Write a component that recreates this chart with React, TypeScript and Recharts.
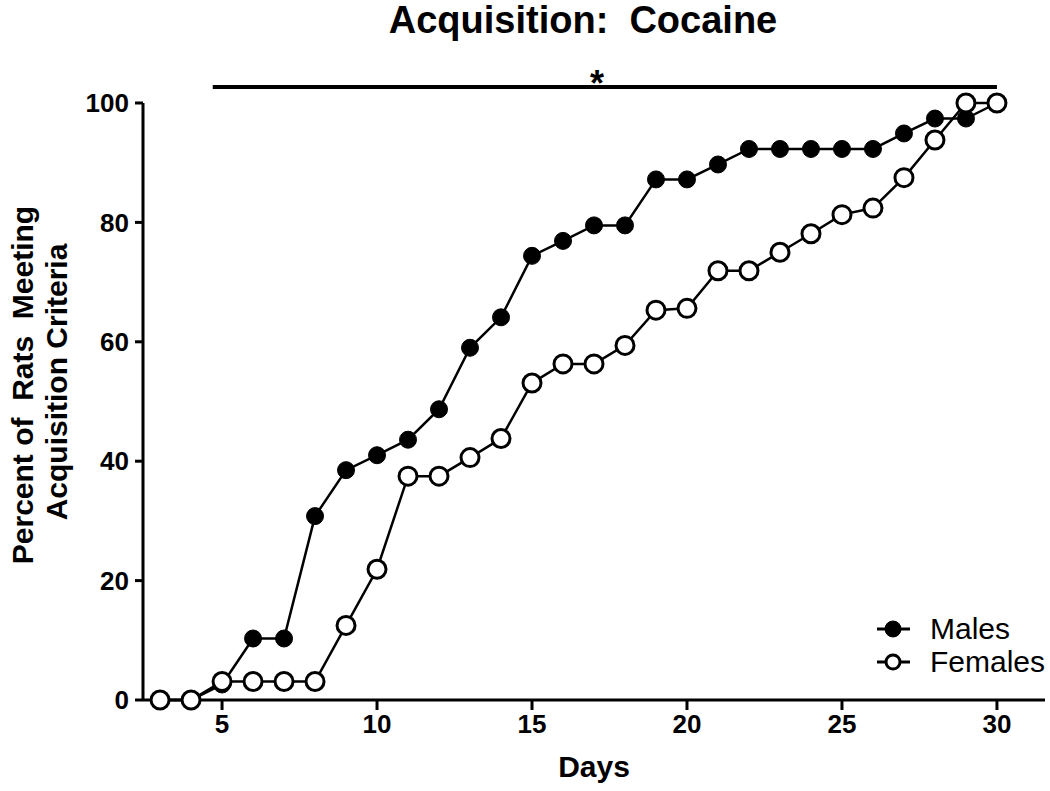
import React from "react";
import { LineChart, Line, XAxis, YAxis, Legend, ReferenceLine } from "recharts";

const days = [3, 4, 5, 6, 7, 8, 9, 10, 11, 12, 13, 14, 15, 16, 17, 18, 19, 20, 21, 22, 23, 24, 25, 26, 27, 28, 29, 30];
const males = [0, 0, 2.6, 10.3, 10.3, 30.8, 38.5, 41.0, 43.6, 48.7, 59.0, 64.1, 74.4, 76.9, 79.5, 79.5, 87.2, 87.2, 89.7, 92.3, 92.3, 92.3, 92.3, 92.3, 94.9, 97.4, 97.4, 100];
const females = [0, 0, 3.1, 3.1, 3.1, 3.1, 12.5, 21.9, 37.5, 37.5, 40.6, 43.8, 53.1, 56.3, 56.3, 59.4, 65.3, 65.6, 71.9, 71.9, 75.0, 78.1, 81.3, 82.4, 87.5, 93.8, 100, 100];
const xTicks = [5, 10, 15, 20, 25, 30];
const yTicks = [0, 20, 40, 60, 80, 100];
const sigRange = [4.7, 30];
const legendOrder = ["males", "females"];

const FONT = '"Liberation Sans", Arial, Helvetica, sans-serif';

const data = days.map((d, i) => ({ day: d, males: males[i], females: females[i] }));

function LegendBox({ payload }: any) {
  const items = [...(payload || [])].sort(
    (a: any, b: any) => legendOrder.indexOf(a.dataKey) - legendOrder.indexOf(b.dataKey)
  );
  return (
    <div style={{ fontFamily: FONT, fontSize: 30, color: "#000" }}>
      {items.map((p: any) => {
        const open = p.dataKey === "females";
        return (
          <div key={p.dataKey} style={{ display: "flex", alignItems: "center", height: 33 }}>
            <svg width={62} height={24}>
              <line x1={9} y1={12} x2={42} y2={12} stroke="#000" strokeWidth={3} />
              <circle cx={25} cy={12} r={open ? 7 : 8} fill={open ? "#fff" : "#000"} stroke="#000" strokeWidth={open ? 3 : 1} />
            </svg>
            <span style={{ lineHeight: "30px" }}>{p.value}</span>
          </div>
        );
      })}
    </div>
  );
}

export default function App() {
  return (
    <div style={{ position: "absolute", left: 0, top: 0, width: 1050, height: 791, background: "#fff" }}>
      <LineChart width={1050} height={791} data={data} margin={{ top: 103, right: 5, bottom: 61, left: 83 }}>
        <XAxis
          dataKey="day"
          type="number"
          domain={[2.45, 31.55]}
          allowDataOverflow
          ticks={xTicks}
          tickSize={10}
          tickMargin={5}
          stroke="#000"
          strokeWidth={3}
          tick={{ fontFamily: FONT, fontSize: 26, fontWeight: "bold", fill: "#000" }}
          label={() => (
            <text x={594} y={777} textAnchor="middle" fontFamily={FONT} fontSize={30} fontWeight="bold" fill="#000">
              Days
            </text>
          )}
        />
        <YAxis
          type="number"
          domain={[0, 100]}
          ticks={yTicks}
          width={60}
          tickSize={8}
          tickMargin={6}
          stroke="#000"
          strokeWidth={3}
          tick={{ fontFamily: FONT, fontSize: 26, fontWeight: "bold", fill: "#000" }}
          label={() => (
            <g fontFamily={FONT} fontSize={30} fontWeight="bold" fill="#000">
              <text x={33} y={385} textAnchor="middle" transform="rotate(-90 33 385)" xmlSpace="preserve" style={{ whiteSpace: "pre" }}>
                {"Percent of  Rats  Meeting"}
              </text>
              <text x={67} y={382} textAnchor="middle" transform="rotate(-90 67 382)">
                {"Acquisition Criteria"}
              </text>
            </g>
          )}
        />
        <ReferenceLine
          segment={[{ x: sigRange[0], y: 102.7 }, { x: sigRange[1], y: 102.7 }]}
          stroke="#000"
          strokeWidth={4}
          ifOverflow="visible"
        />
        <Line
          dataKey="males"
          name="Males"
          stroke="#000"
          strokeWidth={2.5}
          dot={{ r: 8.5, fill: "#000", stroke: "#000", strokeWidth: 1 }}
          isAnimationActive={false}
        />
        <Line
          dataKey="females"
          name="Females"
          stroke="#000"
          strokeWidth={2.5}
          dot={{ r: 9, fill: "#fff", stroke: "#000", strokeWidth: 3 }}
          isAnimationActive={false}
        />
        <Legend
          layout="vertical"
          align="center"
          verticalAlign="middle"
          content={<LegendBox />}
          wrapperStyle={{ left: 868, top: 612, width: 190 }}
        />
      </LineChart>
      <svg width={1050} height={120} style={{ position: "absolute", left: 0, top: 0, pointerEvents: "none" }}>
        <text x={583} y={33} textAnchor="middle" fontFamily={FONT} fontSize={38} fontWeight="bold" fill="#000" style={{ whiteSpace: "pre" }}>
          {"Acquisition:  Cocaine"}
        </text>
        <text x={597} y={96} textAnchor="middle" fontFamily={FONT} fontSize={36} fontWeight="bold" fill="#000">
          *
        </text>
      </svg>
    </div>
  );
}
